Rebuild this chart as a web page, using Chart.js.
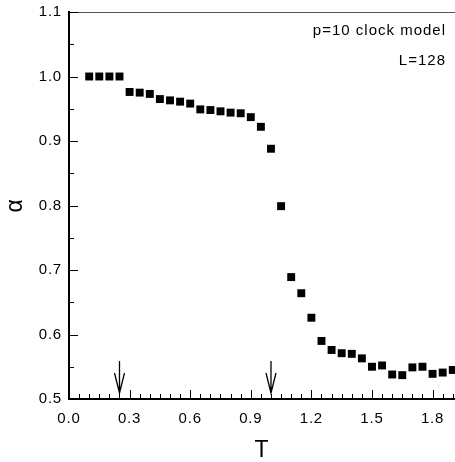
<!DOCTYPE html>
<html>
<head>
<meta charset="utf-8">
<script src="https://cdn.jsdelivr.net/npm/chart.js@4/dist/chart.umd.min.js"></script>
<style>
  html, body { margin: 0; padding: 0; background: #fff; }
  #wrap { width: 455px; height: 462px; position: relative; }
</style>
</head>
<body>
<div id="wrap"><canvas id="c"></canvas></div>
<script>
// ---- data ----
const temperatures = [0.10, 0.15, 0.20, 0.25, 0.30, 0.35, 0.40, 0.45, 0.50, 0.55,
                      0.60, 0.65, 0.70, 0.75, 0.80, 0.85, 0.90, 0.95, 1.00, 1.05,
                      1.10, 1.15, 1.20, 1.25, 1.30, 1.35, 1.40, 1.45, 1.50, 1.55,
                      1.60, 1.65, 1.70, 1.75, 1.80, 1.85, 1.90];
const alphaValues = [1.000, 1.000, 1.000, 1.000, 0.976, 0.975, 0.973, 0.965, 0.963, 0.961,
                     0.958, 0.949, 0.948, 0.946, 0.944, 0.943, 0.937, 0.922, 0.888, 0.799,
                     0.689, 0.664, 0.626, 0.590, 0.576, 0.571, 0.570, 0.563, 0.550, 0.552,
                     0.538, 0.537, 0.549, 0.550, 0.539, 0.541, 0.545];
const xTickValues = [0.0, 0.3, 0.6, 0.9, 1.2, 1.5, 1.8];
const yTickValues = [0.5, 0.6, 0.7, 0.8, 0.9, 1.0, 1.1];
const arrowTemperatures = [0.25, 1.0];
const annotationLines = ['p=10 clock model', 'L=128'];
const xTitle = 'T';
const yTitle = 'α';

const FONT = '"Liberation Sans", Arial, Helvetica, sans-serif';

const decorPlugin = {
  id: 'decor',
  beforeDraw(chart) {
    chart.ctx.letterSpacing = '0.8px';
  },
  afterDraw(chart) {
    const {ctx, chartArea: a, scales: {x, y}} = chart;
    ctx.save();
    // top frame line
    ctx.strokeStyle = '#555';
    ctx.lineWidth = 1;
    ctx.beginPath();
    ctx.moveTo(a.left, a.top + 0.5);
    ctx.lineTo(a.right, a.top + 0.5);
    ctx.stroke();
    // inward ticks
    ctx.strokeStyle = '#000';
    ctx.lineWidth = 1;
    ctx.beginPath();
    for (let i = 0; ; i++) {
      const v = i * 0.05;
      if (v > x.max + 1e-9) break;
      const px = Math.round(x.getPixelForValue(v)) + 0.5;
      const len = (i % 6 === 0) ? 9 : 5;
      ctx.moveTo(px, a.bottom);
      ctx.lineTo(px, a.bottom - len);
    }
    for (let i = 0; ; i++) {
      const v = y.min + i * 0.05;
      if (v > y.max + 1e-9) break;
      const py = Math.round(y.getPixelForValue(v)) + 0.5;
      const len = (i % 2 === 0) ? 9 : 5;
      ctx.moveTo(a.left, py);
      ctx.lineTo(a.left + len, py);
    }
    ctx.stroke();
    // arrows
    ctx.lineWidth = 1.3;
    ctx.beginPath();
    arrowTemperatures.forEach(t => {
      const px = x.getPixelForValue(t);
      const tip = a.bottom - 6;
      ctx.moveTo(px, a.bottom - 38);
      ctx.lineTo(px, tip);
      ctx.moveTo(px - 5, tip - 20);
      ctx.lineTo(px, tip);
      ctx.lineTo(px + 5, tip - 20);
    });
    ctx.stroke();
    // annotation text
    ctx.fillStyle = '#000';
    ctx.font = '15px ' + FONT;
    ctx.letterSpacing = '1px';
    ctx.textAlign = 'right';
    ctx.textBaseline = 'alphabetic';
    annotationLines.forEach((s, i) => {
      ctx.fillText(s, a.right - 9, a.top + 23 + i * 30);
    });
    ctx.restore();
  }
};

new Chart(document.getElementById('c'), {
  type: 'scatter',
  data: {
    datasets: [{
      data: temperatures.map((t, i) => ({x: t, y: alphaValues[i]})),
      pointStyle: 'rect',
      pointRadius: 5.6,
      pointHoverRadius: 5.6,
      backgroundColor: '#000',
      borderColor: '#000',
      borderWidth: 0
    }]
  },
  options: {
    responsive: true,
    maintainAspectRatio: false,
    animation: false,
    events: [],
    layout: { autoPadding: false, padding: { top: 12, right: 0, left: 0, bottom: 0 } },
    plugins: { legend: { display: false }, tooltip: { enabled: false } },
    scales: {
      x: {
        type: 'linear',
        min: 0,
        max: 1.911,
        afterBuildTicks: s => { s.ticks = xTickValues.map(v => ({value: v})); },
        afterFit: s => { s.height = 63; },
        grid: { display: true, drawOnChartArea: false, drawTicks: false, color: 'rgba(0,0,0,0)' },
        border: { display: true, color: '#000', width: 2 },
        ticks: {
          color: '#000',
          padding: 11,
          maxRotation: 0,
          autoSkip: false,
          font: { family: FONT, size: 15 },
          callback: v => Number(v).toFixed(1)
        },
        title: {
          display: true, text: xTitle, color: '#000',
          font: { family: FONT, size: 23, lineHeight: 1 },
          padding: { top: 0, bottom: 0 }
        }
      },
      y: {
        type: 'linear',
        min: 0.5,
        max: 1.1,
        afterBuildTicks: s => { s.ticks = yTickValues.map(v => ({value: v})); },
        afterFit: s => { s.width = 69; },
        grid: { display: true, drawOnChartArea: false, drawTicks: true, tickLength: 7, color: 'rgba(0,0,0,0)' },
        border: { display: true, color: '#000', width: 2 },
        ticks: {
          color: '#000',
          padding: 0,
          autoSkip: false,
          font: { family: FONT, size: 15 },
          callback: v => Number(v).toFixed(1)
        },
        title: {
          display: true, text: yTitle, color: '#000',
          font: { family: FONT, size: 23, lineHeight: 1 },
          padding: { top: 4, bottom: 0 }
        }
      }
    }
  },
  plugins: [decorPlugin]
});
</script>
</body>
</html>
